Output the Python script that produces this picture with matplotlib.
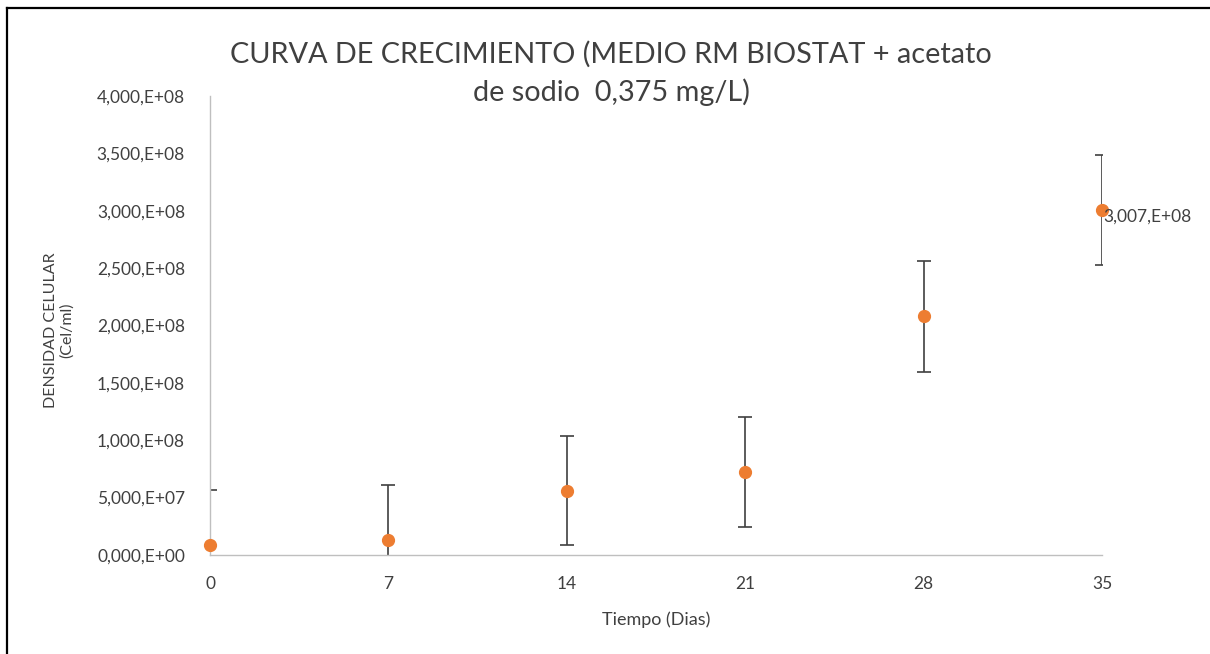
import matplotlib
matplotlib.use("Agg")
import matplotlib.pyplot as plt
from matplotlib.lines import Line2D
from matplotlib.ticker import FuncFormatter, MultipleLocator

plt.rcParams['font.family'] = ['Lato', 'DejaVu Sans']

# data
dias = [0, 7, 14, 21, 28, 35]
densidad = [8.5e6, 1.3e7, 5.6e7, 7.2e7, 2.08e8, 3.007e8]
error = [4.8e7, 4.8e7, 4.75e7, 4.8e7, 4.85e7, 4.8e7]

titulo = "CURVA DE CRECIMIENTO (MEDIO RM BIOSTAT + acetato\nde sodio  0,375 mg/L)"
etiqueta_ult = "3,007,E+08"


def fmt_excel(v, pos):
    if v == 0:
        return "0,000,E+00"
    exp = 0
    m = v
    while abs(m) >= 10:
        m /= 10
        exp += 1
    while abs(m) < 1:
        m *= 10
        exp -= 1
    return ("%.3f" % m).replace(".", ",") + ",E%+03d" % exp


fig = plt.figure(figsize=(12.1, 6.54), dpi=100)
ax = fig.add_axes([210 / 1210, 1 - 555 / 654, 892 / 1210, 459 / 654])

ax.errorbar(dias, densidad, yerr=error, fmt='none', ecolor='#404040',
            elinewidth=1.2, capsize=5, capthick=1.2, zorder=2)
ax.plot(dias, densidad, 'o', color='#ED7D31', markersize=8.5,
        clip_on=False, zorder=3)

ax.annotate(etiqueta_ult, (dias[-1], densidad[-1]), xytext=(1, -5),
            textcoords='offset points', ha='left', va='center',
            fontsize=12.5, color='#404040')

ax.set_xlim(0, 35)
ax.set_ylim(0, 4e8)
ax.set_xticks(dias)
ax.yaxis.set_major_locator(MultipleLocator(5e7))
ax.yaxis.set_major_formatter(FuncFormatter(fmt_excel))
ax.tick_params(length=0, labelsize=12.5, labelcolor='#404040')
ax.tick_params(axis='x', pad=15)
ax.tick_params(axis='y', pad=18)

for s in ['top', 'right']:
    ax.spines[s].set_visible(False)
for s in ['left', 'bottom']:
    ax.spines[s].set_color('#bfbfbf')
    ax.spines[s].set_linewidth(1)

ax.set_xlabel("Tiempo (Dias)", fontsize=13, color='#404040', labelpad=14)
fig.text(59 / 1210, 1 - 330 / 654, "DENSIDAD CELULAR\n(Cel/ml)", rotation=90,
         ha='center', va='center', fontsize=11.5, color='#404040',
         linespacing=1.15)

fig.text(0.505, 1 - 73.5 / 654, titulo, ha='center', va='center', fontsize=20.8,
         color='#404040', linespacing=1.47)

# frame of the chart area
fig.add_artist(Line2D([7 / 1210, 7 / 1210], [0, 1 - 8 / 654], color='black', lw=1.6))
fig.add_artist(Line2D([7 / 1210, 1], [1 - 8 / 654, 1 - 8 / 654], color='black', lw=1.6))

fig.savefig("out.png", dpi=100)
